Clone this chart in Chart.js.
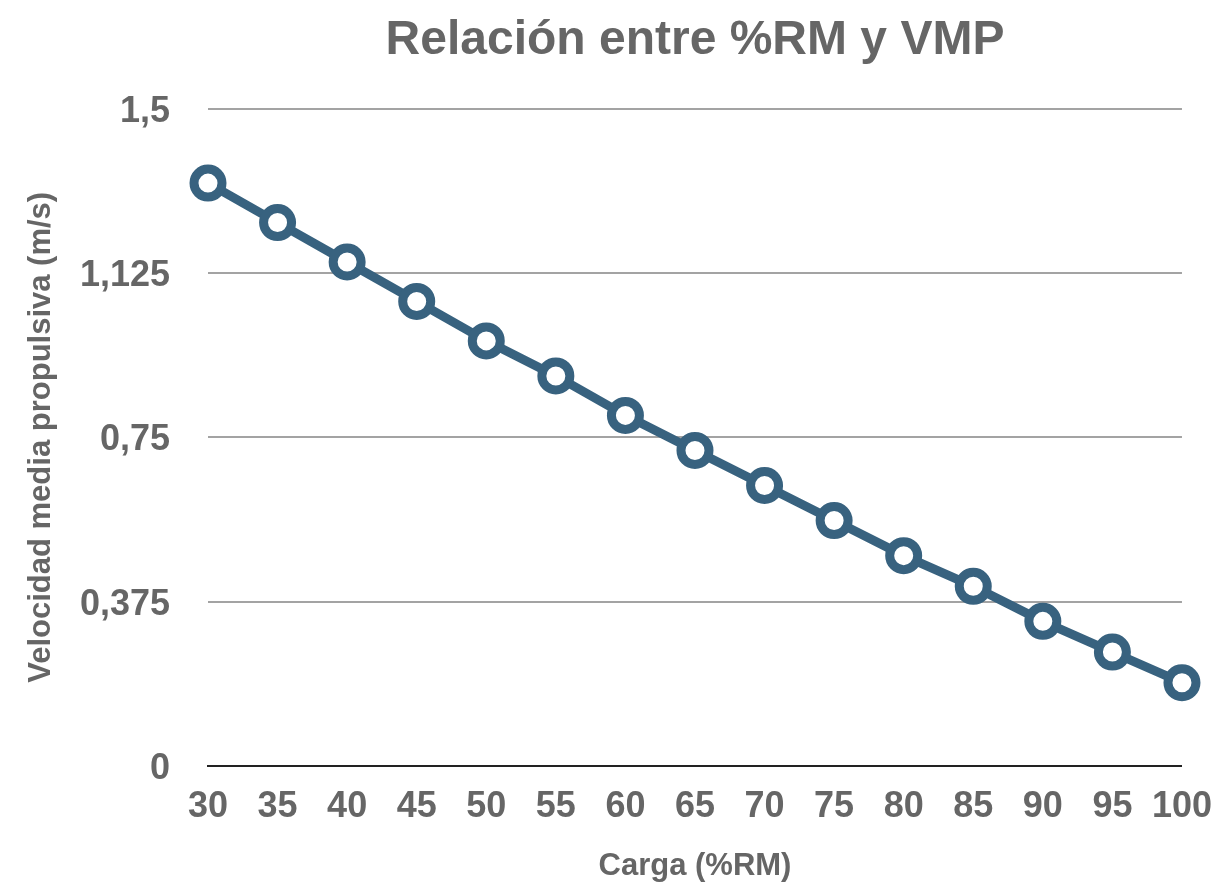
<!DOCTYPE html>
<html lang="es">
<head>
  <meta charset="UTF-8" />
  <title>Relación entre %RM y VMP</title>
  <script src="https://cdn.jsdelivr.net/npm/chart.js"></script>
  <style>
    body { margin: 0; background: #fff; }
    .wrap { width: 1231px; height: 884px; }
  </style>
</head>
<body>
  <div class="wrap"><canvas id="vmpChart"></canvas></div>

  <script>
    // carga en %RM y velocidad media propulsiva (m/s)
    const cargas = ["30", "35", "40", "45", "50", "55", "60", "65", "70", "75", "80", "85", "90", "95", "100"];
    const vmp = [1.33, 1.24, 1.15, 1.06, 0.97, 0.89, 0.80, 0.72, 0.64, 0.56, 0.48, 0.41, 0.33, 0.26, 0.19];
    const yTicks = [0, 0.375, 0.75, 1.125, 1.5];

    const gris = "#666666";
    const fuente = "'Liberation Sans', Arial, Helvetica, sans-serif";

    const ctx = document.getElementById("vmpChart").getContext("2d");

    new Chart(ctx, {
      type: "line",
      data: {
        labels: cargas,
        datasets: [
          {
            label: "VMP",
            data: vmp,
            borderColor: "#38627f",
            borderWidth: 9,
            pointRadius: 14,
            pointHoverRadius: 14,
            pointBorderWidth: 9,
            pointBackgroundColor: "#ffffff",
            pointBorderColor: "#38627f",
            tension: 0,
          },
        ],
      },
      options: {
        responsive: true,
        maintainAspectRatio: false,
        animation: false,
        layout: { padding: { left: 0, right: 49, top: 0, bottom: 0 } },
        plugins: {
          legend: { display: false },
          tooltip: { enabled: false },
          title: {
            display: true,
            text: "Relación entre %RM y VMP",
            fullSize: false,
            color: gris,
            font: { family: fuente, size: 48, weight: "bold" },
            padding: { top: 12, bottom: 39 },
          },
        },
        scales: {
          x: {
            offset: false,
            grid: { display: false, drawTicks: false },
            border: { display: true, color: "#222222", width: 2 },
            ticks: {
              color: gris,
              padding: 19,
              maxRotation: 0,
              autoSkip: false,
              font: { family: fuente, size: 36, weight: "bold" },
            },
            title: {
              display: true,
              text: "Carga (%RM)",
              color: gris,
              font: { family: fuente, size: 31, weight: "bold", lineHeight: 1.1 },
              padding: { top: 0, bottom: 0 },
            },
            afterFit: (s) => { s.height = 118; },
          },
          y: {
            min: 0,
            max: 1.5,
            afterBuildTicks: (s) => { s.ticks = yTicks.map((v) => ({ value: v })); },
            grid: {
              drawTicks: false,
              lineWidth: 2,
              color: (c) => (c.tick && c.tick.value === 0 ? "rgba(0,0,0,0)" : "#a3a3a3"),
            },
            border: { display: false },
            ticks: {
              color: gris,
              padding: 38,
              labelOffset: 3,
              font: { family: fuente, size: 36, weight: "bold" },
              callback: (v) => String(v).replace(".", ","),
            },
            title: {
              display: true,
              text: "Velocidad media propulsiva (m/s)",
              color: gris,
              font: { family: fuente, size: 31, weight: "bold" },
              padding: { top: 23, bottom: 0 },
            },
            afterFit: (s) => { s.width = 208; },
          },
        },
      },
    });
  </script>
</body>
</html>
